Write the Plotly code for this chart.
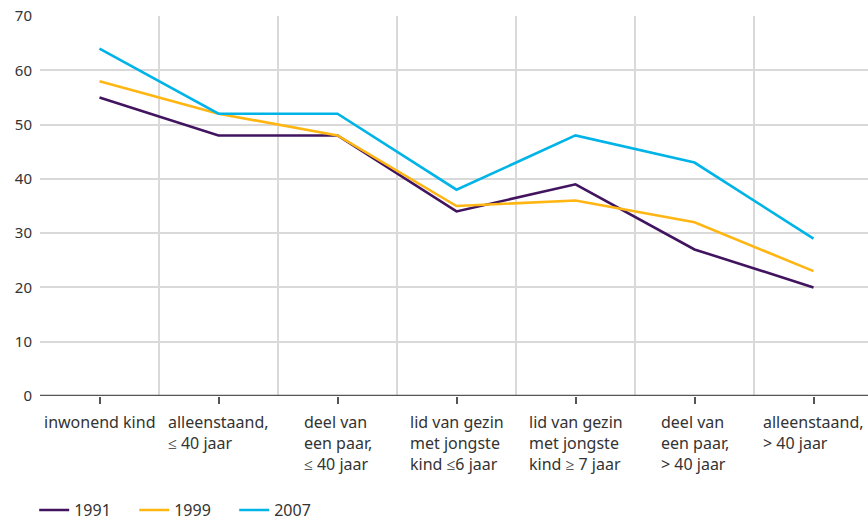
import plotly.graph_objects as go

categories = [
    "inwonend kind",
    "alleenstaand,<br>≤ 40 jaar",
    "deel van<br>een paar,<br>≤ 40 jaar",
    "lid van gezin<br>met jongste<br>kind ≤6 jaar",
    "lid van gezin<br>met jongste<br>kind ≥ 7 jaar",
    "deel van<br>een paar,<br>> 40 jaar",
    "alleenstaand,<br>> 40 jaar",
]
y1991 = [55, 48, 48, 34, 39, 27, 20]
y1999 = [58, 52, 48, 35, 36, 32, 23]
y2007 = [64, 52, 52, 38, 48, 43, 29]
y_ticks = [0, 10, 20, 30, 40, 50, 60, 70]

series = [("1991", y1991, "#42145f"), ("1999", y1999, "#ffb612"), ("2007", y2007, "#01b4e7")]

xs = list(range(len(categories)))
fig = go.Figure()
for name, vals, col in series:
    fig.add_trace(go.Scatter(x=xs, y=vals, mode="lines", name=name,
                             line=dict(color=col, width=2.6)))

font = "Noto Sans"
for i, lab in enumerate(categories):
    fig.add_annotation(x=i, y=-0.035, xref="x", yref="paper", text=lab,
                       showarrow=False, xanchor="center", yanchor="top", align="left",
                       font=dict(family=font, size=16, color="#333333"))

fig.update_layout(
    width=868, height=520,
    margin=dict(l=40, r=0, t=16, b=124, autoexpand=False),
    paper_bgcolor="white", plot_bgcolor="white",
    showlegend=True,
    legend=dict(orientation="h", x=-0.007, xanchor="left",
                yref="container", y=0.019, yanchor="middle",
                font=dict(family=font, size=16, color="#333333"),
                entrywidth=55, entrywidthmode="pixels", itemwidth=30),
    xaxis=dict(range=[-0.5, 6.458], tickvals=xs, ticktext=[""] * len(xs),
               ticks="outside", ticklen=7, tickwidth=1.5, tickcolor="#555555",
               showgrid=False, showline=False, zeroline=False,
               minor=dict(tickvals=[i - 0.5 for i in range(len(xs) + 1)], showgrid=True,
                          gridcolor="#d9d9d9", gridwidth=1.5, ticks="")),
    yaxis=dict(range=[0, 70], tickvals=y_ticks, showgrid=True, gridcolor="#d9d9d9",
               gridwidth=1.5, zeroline=False, showline=False, ticks="",
               ticklabelstandoff=7,
               tickfont=dict(family=font, size=15, color="#333333")),
)
fig.add_shape(type="line", xref="paper", yref="y", x0=0, x1=1, y0=0, y1=0,
              line=dict(color="#555555", width=2.5))
fig.write_html("out.html", config={"displayModeBar": False},
               post_script="document.body.style.margin='0';document.body.style.overflow='hidden';")
